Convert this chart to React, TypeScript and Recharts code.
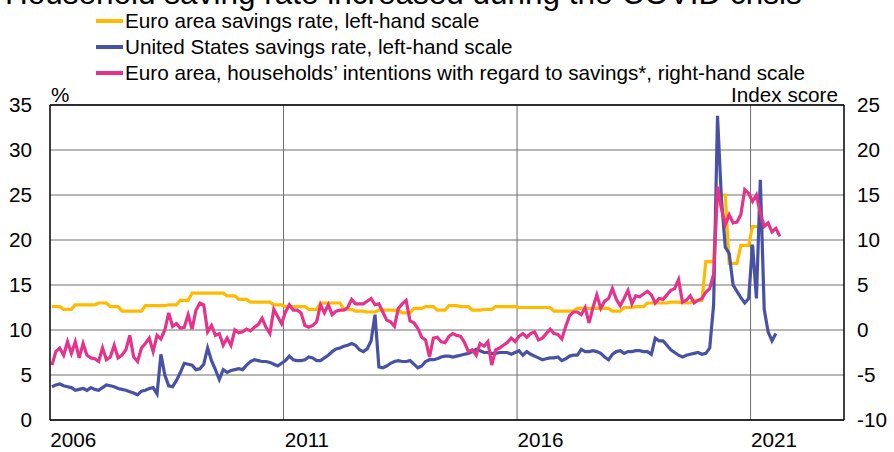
import { LineChart, Line, XAxis, YAxis, CartesianGrid, ReferenceLine } from 'recharts'

const FONT = '"Liberation Sans", Arial, Helvetica, sans-serif'
const FS = 20.7

const titleText = 'Household saving rate increased during the COVID crisis'
const seriesNames = [
  'Euro area savings rate, left-hand scale',
  'United States savings rate, left-hand scale',
  'Euro area, households\u2019 intentions with regard to savings*, right-hand scale',
]
const seriesColors = ['#FFBA00', '#4852A4', '#E5338B']

// quarterly, 2006Q1 .. 2021Q1 (%)
const euroSavingsQuarterly = [
  12.6, 12.3, 12.8, 12.8,
  13.0, 12.6, 12.1, 12.1,
  12.7, 12.7, 12.8, 13.3,
  14.1, 14.1, 14.1, 13.8,
  13.4, 13.1, 13.1, 12.8,
  12.6, 12.6, 12.3, 13.0,
  13.0, 12.3, 12.1, 12.0,
  12.2, 12.2, 11.9, 12.4,
  12.6, 12.2, 12.7, 12.6,
  12.2, 12.3, 12.6, 12.6,
  12.5, 12.5, 12.5, 12.1,
  12.1, 12.4, 12.4, 12.4,
  12.1, 12.5, 12.6, 13.0,
  13.0, 13.1, 13.0, 13.3,
  17.6, 25.0, 17.4, 19.4,
  21.5,
]

// monthly, Jan 2006 .. Jul 2021 (%)
const usSavingsMonthly = [
  3.7, 3.9, 4.0, 3.8, 3.7, 3.6, 3.3, 3.4, 3.5, 3.3, 3.6, 3.4,
  3.3, 3.6, 3.9, 3.8, 3.7, 3.5, 3.4, 3.3, 3.15, 3.0, 2.8, 3.2,
  3.3, 3.5, 3.6, 2.9, 7.3, 5.0, 3.8, 3.7, 4.4, 5.3, 6.3, 6.2,
  6.1, 5.6, 5.7, 6.2, 8.0, 6.6, 5.6, 4.5, 5.6, 5.3, 5.5, 5.6,
  5.7, 5.6, 6.1, 6.5, 6.7, 6.6, 6.5, 6.5, 6.4, 6.2, 6.0, 6.3,
  6.6, 7.1, 6.7, 6.6, 6.6, 6.7, 7.0, 6.9, 6.6, 6.6, 6.9, 7.2,
  7.6, 7.9, 8.0, 8.2, 8.3, 8.5, 8.3, 7.8, 7.6, 7.9, 8.8, 11.7,
  5.9, 5.8, 6.0, 6.3, 6.5, 6.6, 6.5, 6.5, 6.6, 6.2, 5.8, 6.0,
  6.5, 6.7, 6.7, 6.8, 7.0, 7.1, 7.1, 7.0, 7.1, 7.2, 7.3, 7.4,
  7.6, 7.85, 7.7, 7.5, 7.5, 7.4, 7.4, 7.5, 7.5, 7.5, 7.3, 7.5,
  7.7, 7.2, 7.6, 7.3, 7.1, 6.9, 6.7, 6.8, 6.9, 6.9, 7.0, 6.6,
  6.8, 7.1, 7.2, 7.2, 7.85, 7.6, 7.6, 7.7, 7.6, 7.4, 7.0, 6.7,
  7.3, 7.6, 7.7, 7.4, 7.6, 7.6, 7.7, 7.7, 7.6, 7.6, 7.3, 9.1,
  8.8, 8.8, 8.3, 7.8, 7.5, 7.2, 7.0, 7.2, 7.3, 7.4, 7.5, 7.3,
  7.4, 8.0, 12.8, 33.8, 24.6, 19.2, 18.5, 15.0, 14.3, 13.6, 13.0, 13.5,
  19.5, 13.5, 26.7, 12.3, 9.8, 8.8, 9.6,
]

// monthly, Jan 2006 .. Aug 2021 (index score)
const savingIntentionsMonthly = [
  -3.9, -2.4, -2.0, -2.8, -1.3, -2.6, -1.3, -3.1, -1.5, -2.8, -3.1, -3.2,
  -3.5, -2.0, -3.3, -3.0, -1.7, -3.1, -2.8, -2.2, -0.6, -3.0, -3.5, -2.0,
  -1.5, -0.9, -2.4, -0.6, -1.0, 0.0, 1.9, 0.4, 0.7, 0.2, 0.3, 1.7,
  0.1, 2.2, 3.0, 2.8, -0.2, 0.5, -0.6, -0.4, -1.7, -0.9, -1.7, 0.0,
  -0.3, -0.2, 0.1, -0.1, 0.3, 0.6, 1.3, 0.3, -0.4, 2.3, 1.5, 0.7,
  2.0, 2.8, 2.2, 2.2, 1.9, 0.5, 0.3, 0.5, 0.9, 2.8, 1.9, 2.8,
  1.7, 2.1, 2.2, 2.2, 2.5, 3.4, 2.9, 2.9, 2.9, 3.2, 3.5, 2.8,
  2.9, 2.0, 1.1, 0.9, 0.4, 2.4, 2.9, 3.3, 1.0, 0.8, 0.2, -0.8,
  -1.1, -3.0, -0.9, -0.8, -1.3, -1.4, -0.7, -0.4, -0.6, -0.7, -1.4, -2.4,
  -2.2, -2.8, -1.5, -1.8, -1.3, -3.9, -2.2, -2.0, -1.7, -1.4, -0.9, -1.3,
  -0.7, -0.4, -0.8, -0.4, -0.2, -1.1, -0.9, -0.4, 0.1, -0.4, -0.5, -1.0,
  0.4, 1.6, 2.0, 2.0, 1.7, 2.5, 0.8, 2.5, 3.9, 2.4, 3.2, 3.5,
  4.6, 3.4, 2.7, 3.5, 4.4, 2.9, 3.8, 3.7, 4.0, 4.3, 3.9, 3.0,
  3.5, 3.4, 3.9, 4.4, 4.6, 5.6, 3.1, 3.3, 3.8, 3.0, 3.3, 3.5,
  4.2, 4.6, 6.2, 15.9, 13.5, 11.7, 12.8, 11.9, 12.0, 12.8, 15.6, 15.2,
  14.3, 15.0, 13.0, 11.5, 11.9, 10.9, 11.3, 10.4,
]

const leftTicks = [0, 5, 10, 15, 20, 25, 30, 35]
const rightTicks = [-10, -5, 0, 5, 10, 15, 20, 25]
const yearTicks = [2006, 2007, 2008, 2009, 2010, 2011, 2012, 2013, 2014, 2015, 2016, 2017, 2018, 2019, 2020, 2021, 2022, 2023]
const yearLabelTicks = [2006.5, 2011.5, 2016.5, 2021.5]
const gridYears = [2011, 2016, 2021]

const monthly = (vals: number[]) => vals.map((v, i) => ({ x: 2006 + (i + 0.5) / 12, v }))

const euroPoints = monthly(euroSavingsQuarterly.flatMap(v => [v, v, v]))
const usPoints = monthly(usSavingsMonthly)
const intentionPoints = monthly(savingIntentionsMonthly)

const tickStyle = { fill: '#000', fontSize: FS, fontFamily: FONT }

export default function App() {
  return (
    <div style={{ position: 'relative', width: 894, height: 452, overflow: 'hidden', fontFamily: FONT, background: '#fff' }}>
      <style>{'body{margin:0}'}</style>
      <div style={{ position: 'absolute', left: 5, top: -21, fontSize: 31.5, lineHeight: '28px', whiteSpace: 'nowrap', color: '#000' }}>
        {titleText}
      </div>
      {seriesNames.map((name, i) => (
        <div key={name} style={{ position: 'absolute', left: 96, top: 9 + i * 26, height: 24, display: 'flex', alignItems: 'center', fontSize: FS, whiteSpace: 'nowrap', color: '#000' }}>
          <span style={{ display: 'inline-block', width: 27, height: 4, background: seriesColors[i], marginRight: 2 }} />
          {name}
        </div>
      ))}
      <div style={{ position: 'absolute', left: 51, top: 83, fontSize: FS, color: '#000' }}>%</div>
      <div style={{ position: 'absolute', right: 56, top: 83, fontSize: FS, color: '#000' }}>Index score</div>

      <LineChart width={894} height={452} margin={{ top: 105, right: 0, bottom: 0, left: 0 }}>
        <CartesianGrid yAxisId="left" vertical={false} stroke="#6e6e6e" />
        <XAxis
          xAxisId="minor"
          type="number"
          dataKey="x"
          domain={[2006, 2023]}
          ticks={yearTicks}
          interval={0}
          tick={false}
          tickSize={5}
          mirror
          height={0}
          axisLine={false}
          tickLine={{ stroke: '#000' }}
        />
        <XAxis
          type="number"
          dataKey="x"
          domain={[2006, 2023]}
          ticks={yearLabelTicks}
          interval={0}
          tickFormatter={(v) => String(Math.floor(v))}
          tickLine={false}
          tickSize={0}
          tickMargin={12}
          height={32}
          axisLine={{ stroke: '#000', strokeWidth: 1.5 }}
          tick={tickStyle}
        />
        <YAxis
          yAxisId="left"
          domain={[0, 35]}
          ticks={leftTicks}
          interval={0}
          width={50}
          tickLine={false}
          tickSize={0}
          tickMargin={18}
          axisLine={{ stroke: '#000', strokeWidth: 1.5 }}
          tick={tickStyle}
        />
        <YAxis
          yAxisId="right"
          orientation="right"
          domain={[-10, 25]}
          ticks={rightTicks}
          interval={0}
          width={50}
          tickLine={false}
          tickSize={0}
          tickMargin={13}
          axisLine={{ stroke: '#000', strokeWidth: 1.5 }}
          tick={tickStyle}
        />
        {gridYears.map(yr => (
          <ReferenceLine key={yr} x={yr} yAxisId="left" stroke="#6e6e6e" />
        ))}
        <ReferenceLine y={35} yAxisId="left" stroke="#000" strokeWidth={1.5} />
        <Line yAxisId="left" data={euroPoints} dataKey="v" type="linear" stroke={seriesColors[0]} strokeWidth={3.2} dot={false} isAnimationActive={false} />
        <Line yAxisId="left" data={usPoints} dataKey="v" type="linear" stroke={seriesColors[1]} strokeWidth={3.2} dot={false} isAnimationActive={false} />
        <Line yAxisId="right" data={intentionPoints} dataKey="v" type="linear" stroke={seriesColors[2]} strokeWidth={3.2} dot={false} isAnimationActive={false} />
      </LineChart>
    </div>
  )
}
